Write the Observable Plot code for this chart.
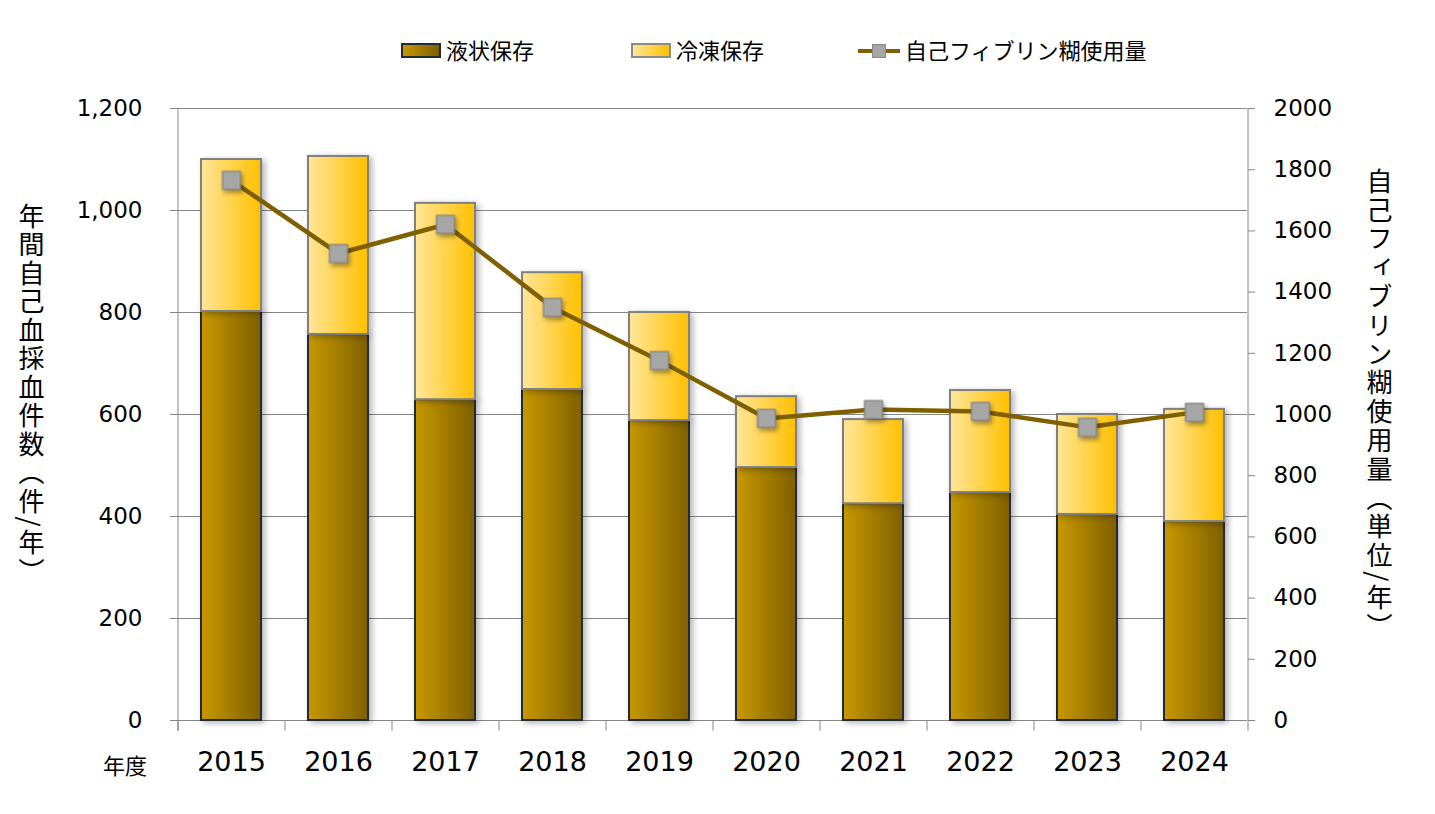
<!DOCTYPE html>
<html>
<head>
<meta charset="utf-8">
<script src="https://cdn.jsdelivr.net/npm/d3@7"></script>
<script src="https://cdn.jsdelivr.net/npm/@observablehq/plot@0.6"></script>
<style>
  body { margin: 0; background: #fff; }
  #wrap { position: relative; width: 1435px; height: 814px; overflow: hidden; font-family: "Noto Sans CJK JP", sans-serif; }
  .abs { position: absolute; white-space: nowrap; }
  .leg { font-size: 22px; color: #000; line-height: 1; }
  .vlabel { writing-mode: vertical-rl; font-size: 26px; color: #000; line-height: 1; }
  #chart { position: absolute; left: 0; top: 90px; }
</style>
</head>
<body>
<div id="wrap">
  <div class="abs" style="left:401px;top:43px;width:36px;height:11px;border:2px solid #222a35;background:linear-gradient(to right,#C89800,#806000)"></div>
  <div class="abs leg" style="left:446px;top:38px">液状保存</div>
  <div class="abs" style="left:631px;top:43px;width:36px;height:11px;border:2px solid #8a8a8a;background:linear-gradient(to right,#FFE699,#FFC000)"></div>
  <div class="abs leg" style="left:676px;top:38px">冷凍保存</div>
  <div class="abs" style="left:858px;top:49px;width:42px;height:4px;background:#7F6000"></div>
  <div class="abs" style="left:872px;top:44px;width:12px;height:12px;background:#A6A6A6;border:1px solid #8a8a8a"></div>
  <div class="abs leg" style="left:905px;top:38px">自己フィブリン糊使用量</div>
  <div class="abs vlabel" style="left:18px;top:203px;letter-spacing:2.5px">年間自己血採血件数（件/年）</div>
  <div class="abs vlabel" style="left:1366px;top:168px;letter-spacing:2.8px">自己フィブリン糊使用量（単位/年）</div>
  <div class="abs" style="left:103px;top:753px;font-size:22px;line-height:1">年度</div>
  <div id="chart"></div>
</div>
<script>
const years = [2015, 2016, 2017, 2018, 2019, 2020, 2021, 2022, 2023, 2024];
const liquid = [802, 757, 629, 649, 588, 496, 425, 447, 404, 390];
const frozen = [298, 349, 385, 229, 212, 139, 165, 200, 196, 220];
const fibrin = [1765, 1526, 1621, 1350, 1176, 987, 1016, 1010, 958, 1007];
const leftTicks = [0, 200, 400, 600, 800, 1000, 1200];
const rightTicks = [0, 200, 400, 600, 800, 1000, 1200, 1400, 1600, 1800, 2000];

const ratio = 1200 / 2000;
const data = years.map((y, i) => ({
  year: String(y),
  liquid: liquid[i],
  top: liquid[i] + frozen[i],
  fibrin: fibrin[i] * ratio
}));

const W = 1435, H = 724, ML = 177, MR = 188, MT = 18, MB = 94;
const step = (W - ML - MR) / years.length;
const first = [data[0]], last = [data[data.length - 1]];

const defs = () => {
  const d = d3.create("svg:defs");
  const g1 = d.append("linearGradient").attr("id", "gLiquid").attr("x1", 0).attr("x2", 1).attr("y1", 0).attr("y2", 0);
  g1.append("stop").attr("offset", "0%").attr("stop-color", "#C89800");
  g1.append("stop").attr("offset", "100%").attr("stop-color", "#7F6000");
  const g2 = d.append("linearGradient").attr("id", "gFrozen").attr("x1", 0).attr("x2", 1).attr("y1", 0).attr("y2", 0);
  g2.append("stop").attr("offset", "0%").attr("stop-color", "#FFE699");
  g2.append("stop").attr("offset", "100%").attr("stop-color", "#FFC000");
  return d.node();
};

const chart = Plot.plot({
  width: W, height: H,
  marginLeft: ML, marginRight: MR, marginTop: MT, marginBottom: MB,
  style: { fontFamily: "'DejaVu Sans', Verdana, sans-serif", color: "#000", background: "transparent" },
  x: { type: "band", domain: data.map(d => d.year), paddingInner: 0.44, paddingOuter: 0.22, align: 0.5 },
  y: { domain: [0, 1200] },
  marks: [
    defs,
    Plot.ruleY(leftTicks, { stroke: "#868686", strokeWidth: 1 }),
    Plot.ruleX(first, { x: "year", dx: -step / 2, y1: -21, y2: 1200, stroke: "#868686" }),
    Plot.ruleX(last, { x: "year", dx: step / 2, y1: -21, y2: 1200, stroke: "#868686" }),
    Plot.ruleX(data, { x: "year", dx: -step / 2, y1: -21, y2: 0, stroke: "#868686" }),
    Plot.barY(data, { x: "year", y1: 0, y2: "liquid", fill: "url(#gLiquid)", stroke: "#222a35", strokeWidth: 2, insetLeft: 0, insetRight: 0 }),
    Plot.barY(data, { x: "year", y1: "liquid", y2: "top", fill: "url(#gFrozen)", stroke: "#808080", strokeWidth: 2, insetLeft: 0, insetRight: 0 }),
    Plot.line(data, { x: "year", y: "fibrin", stroke: "#7F6000", strokeWidth: 4.5 }),
    Plot.dot(data, { x: "year", y: "fibrin", symbol: "square", r: 10, fill: "#A6A6A6", stroke: "#8a8a8a", strokeWidth: 1.5 }),
    Plot.axisY({ anchor: "left", ticks: leftTicks, tickFormat: d3.format(","), tickSize: 7, tickPadding: 28, fontSize: 23, stroke: "#868686", label: null }),
    Plot.axisY({ anchor: "right", ticks: rightTicks.map(v => v * ratio), tickFormat: d => String(Math.round(d / ratio)), tickSize: 7, tickPadding: 19, fontSize: 23, stroke: "#868686", label: null }),
    Plot.axisX({ tickSize: 0, tickPadding: 31, fontSize: 27, label: null })
  ]
});

const svg = d3.select(chart);
svg.selectAll('g[aria-label="bar"]').style("filter", "drop-shadow(3px 2px 3px rgba(0,0,0,0.3))");
svg.selectAll('g[aria-label="dot"]').style("filter", "drop-shadow(2px 3px 2px rgba(0,0,0,0.35))");
svg.selectAll('g[aria-label^="y-axis tick label"] text, g[aria-label^="x-axis tick label"] text').attr("fill", "#000");
document.getElementById("chart").appendChild(chart);
</script>
</body>
</html>
